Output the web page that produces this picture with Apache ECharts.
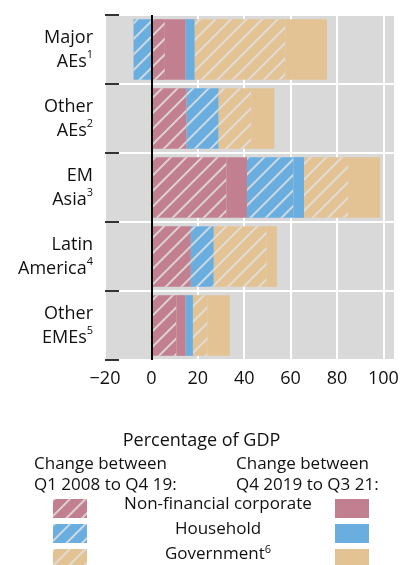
<!DOCTYPE html>
<html>
<head>
<meta charset="utf-8">
<script src="https://cdn.jsdelivr.net/npm/echarts@6/dist/echarts.min.js"></script>
<style>html,body{margin:0;background:#fff}#c{width:403px;height:565px}</style>
</head>
<body>
<div id="c"></div>
<script>
var categories = ['Major|AEs|1', 'Other|AEs|2', 'EM|Asia|3', 'Latin|America|4', 'Other|EMEs|5'];
// change Q1 2008 to Q4 19 (hatched)
var nfcOld = [5.8, 15.2, 32.4, 17.0, 10.8];
var hhOld = [-7.7, 13.8, 20.0, 9.9, 0];
var govOld = [39.1, 14.0, 19.0, 22.8, 6.3];
// change Q4 2019 to Q3 21 (solid)
var nfcNew = [9.0, 0, 8.8, 0, 4.0];
var hhNew = [3.9, 0, 4.6, 0, 3.1];
var govNew = [17.9, 10.0, 13.8, 4.4, 9.6];

var cNfc = '#c27f8f', cHh = '#6aaee0', cGov = '#e3c394';
var font = '"Open Sans", "Noto Sans", sans-serif';
var hatch = {
    symbol: 'rect', symbolSize: 1, color: 'rgba(225,225,225,0.85)',
    dashArrayX: [1, 0], dashArrayY: [2, 9], rotation: -Math.PI / 4
};

function mk(name, data, color, hatched) {
    var s = {
        name: name, type: 'bar', stack: 'a', data: data, barWidth: '88%',
        itemStyle: {color: color}
    };
    if (hatched) s.itemStyle.decal = hatch;
    return s;
}

var myChart = echarts.init(document.getElementById('c'));
var option = {
    animation: false,
    textStyle: {fontFamily: font},
    grid: {left: 105, right: 8, top: 15, bottom: 205, show: true, backgroundColor: '#d9d9d9', borderWidth: 0},
    xAxis: {
        type: 'value', min: -20, max: 105, interval: 20,
        axisLabel: {fontSize: 18, color: '#111', fontFamily: font, showMaxLabel: false, margin: 10,
            formatter: function (v) { return v < 0 ? '\u2212' + (-v) : v; }},
        axisLine: {show: false}, axisTick: {show: false},
        splitLine: {lineStyle: {color: '#fff', width: 2}}
    },
    yAxis: {
        type: 'category', inverse: true, data: categories,
        axisLine: {show: false, onZero: false},
        axisTick: {show: true, inside: true, length: 14, lineStyle: {color: '#333', width: 2}},
        splitLine: {show: true, lineStyle: {color: '#fff', width: 2}},
        axisLabel: {
            margin: 12, align: 'right', lineHeight: 22,
            formatter: function (v) {
                var p = v.split('|');
                return '{a|' + p[0] + '}\n{a|' + p[1] + '}{s|' + p[2] + '}';
            },
            rich: {
                a: {fontSize: 18, color: '#111', fontFamily: font, lineHeight: 24},
                s: {fontSize: 11, color: '#111', fontFamily: font, verticalAlign: 'top', lineHeight: 24, padding: [0, 0, 10, 0]}
            }
        }
    },
    legend: [{
        left: 48, top: 494, height: 80, orient: 'vertical', itemWidth: 34, itemHeight: 19, itemGap: 6, icon: 'rect',
        data: ['Non-financial corporate', 'Household', 'Government'],
        formatter: function () { return ''; }, selectedMode: false
    }, {
        left: 330, top: 494, height: 80, orient: 'vertical', itemWidth: 34, itemHeight: 19, itemGap: 6, icon: 'rect',
        data: ['Non-financial corporate ', 'Household ', 'Government '],
        formatter: function () { return ''; }, selectedMode: false
    }],
    graphic: [
        {type: 'text', left: 'center', top: 432, style: {text: 'Percentage of GDP', fontSize: 18, fill: '#111', fontFamily: font}},
        {type: 'text', left: 34, top: 454, style: {text: 'Change between\nQ1 2008 to Q4 19:', fontSize: 17, lineHeight: 21, fill: '#111', fontFamily: font}},
        {type: 'text', left: 236, top: 454, style: {text: 'Change between\nQ4 2019 to Q3 21:', fontSize: 17, lineHeight: 21, fill: '#111', fontFamily: font}},
        {type: 'text', x: 218, y: 504, style: {text: 'Non-financial corporate', align: 'center', verticalAlign: 'middle', fontSize: 17, fill: '#111', fontFamily: font}},
        {type: 'text', x: 218, y: 529, style: {text: 'Household', align: 'center', verticalAlign: 'middle', fontSize: 17, fill: '#111', fontFamily: font}},
        {type: 'text', x: 218, y: 554, style: {text: '{a|Government}{s|6}', align: 'center', verticalAlign: 'middle',
            rich: {a: {fontSize: 17, fill: '#111', fontFamily: font}, s: {fontSize: 11, fill: '#111', fontFamily: font, verticalAlign: 'top', padding: [0, 0, 8, 0]}}}}
    ],
    series: [
        mk('Non-financial corporate', nfcOld, cNfc, true),
        mk('Non-financial corporate ', nfcNew, cNfc, false),
        mk('Household', hhOld, cHh, true),
        mk('Household ', hhNew, cHh, false),
        mk('Government', govOld, cGov, true),
        mk('Government ', govNew, cGov, false),
        {type: 'line', data: [], markLine: {symbol: 'none', silent: true, label: {show: false},
            lineStyle: {color: '#000', width: 2, type: 'solid'}, data: [{xAxis: 0}]}}
    ]
};
myChart.setOption(option);
window.addEventListener('resize', function () { myChart.resize(); });
</script>
</body>
</html>
